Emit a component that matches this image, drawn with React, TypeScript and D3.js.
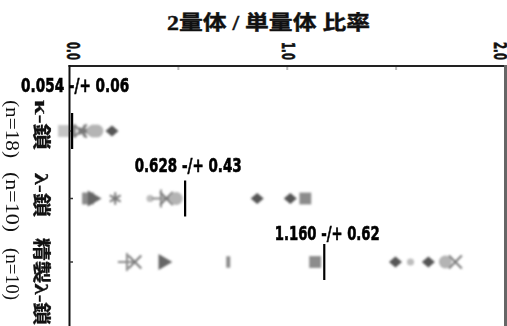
import React from 'react';
import * as d3 from 'd3';

// rows, top to bottom
const rowNames = ['κ-鎖', 'λ-鎖', '精製λ-鎖'];
const rowCounts = ['(n=18)', '(n=10)', '(n=10)'];

// 2量体/単量体 ratio of each sample
const kappaValues = [-0.025, 0.02, 0.05, 0.068, 0.11, 0.126, 0.195];
const kappaShapes = ['square', 'bar', 'times', 'asterisk', 'circle', 'circle', 'diamond'];
const lambdaValues = [0.085, 0.105, 0.21, 0.37, 0.42, 0.445, 0.49, 0.862, 1.014, 1.083];
const lambdaShapes = ['square', 'triangle', 'asterisk', 'dot', 'plus', 'times', 'circle', 'diamond', 'diamond', 'square'];
const pureValues = [0.264, 0.3, 0.43, 0.729, 1.128, 1.497, 1.566, 1.648, 1.726, 1.772];
const pureShapes = ['plus', 'times', 'triangle', 'bar', 'square', 'diamond', 'dot', 'diamond', 'circle', 'times'];

// where the mean bars are drawn, and their printed labels
const meanMarks = [0.012, 0.531, 1.17];
const meanLabels = ['0.054 -/+ 0.06', '0.628 -/+ 0.43', '1.160 -/+ 0.62'];

const xTicks = [0, 0.5, 1, 1.5, 2];
const xTickLabels = ['0.0', '', '1.0', '', '2.0'];

const W = 507;
const H = 326;

const shapeColor: Record<string, string> = {
  diamond: '#555',
  square: '#8c8c8c',
  circle: '#b4b4b4',
  dot: '#bdbdbd',
  triangle: '#666',
  times: '#7a7a7a',
  plus: '#8a8a8a',
  asterisk: '#777',
  bar: '#8a8a8a',
};

const Marker = ({ shape, x, y, light }: { shape: string; x: number; y: number; light?: boolean }) => {
  const col = light ? '#c4c4c4' : shapeColor[shape];
  const sym = d3.symbol();
  if (shape === 'square') return <path d={sym.type(d3.symbolSquare).size(140)()!} transform={`translate(${x},${y})`} fill={col} />;
  if (shape === 'diamond') return <path d={sym.type(d3.symbolSquare).size(70)()!} transform={`translate(${x},${y}) scale(1.1,0.95) rotate(45)`} fill={col} />;
  if (shape === 'circle') return <path d={sym.type(d3.symbolCircle).size(130)()!} transform={`translate(${x},${y})`} fill={col} />;
  if (shape === 'dot') return <path d={sym.type(d3.symbolCircle).size(40)()!} transform={`translate(${x},${y})`} fill={col} />;
  if (shape === 'triangle') return <path d={sym.type(d3.symbolTriangle).size(110)()!} transform={`translate(${x},${y}) rotate(90)`} fill={col} />;
  if (shape === 'bar') return <path d={sym.type(d3.symbolSquare).size(130)()!} transform={`translate(${x},${y}) scale(0.35,1)`} fill={col} />;
  const strokeType = shape === 'times' ? d3.symbolTimes : shape === 'plus' ? d3.symbolPlus : d3.symbolAsterisk;
  return <path d={sym.type(strokeType).size(110)()!} transform={`translate(${x},${y})`} fill="none" stroke={col} strokeWidth={2} />;
};

export default function App() {
  const x = d3.scaleLinear().domain([0, 2]).range([69.5, 505]);
  const yMid = (i: number) => [131, 198.5, 262][i];

  const rows = [
    { values: kappaValues, shapes: kappaShapes },
    { values: lambdaValues, shapes: lambdaShapes },
    { values: pureValues, shapes: pureShapes },
  ];

  // label layout (start y / length along the rotated text)
  const nameStart = [100, 173, 238];
  const nameLen = [50, 44, 87];
  const countStart = [100, 172, 248];
  const countLen = [58, 60, 52];
  const meanLabelY = [92, 172, 240];
  const meanLabelLen = [108, 107, 105];
  const tickDx = [4, 0, 1, 0, -5];

  const condensed = '"Liberation Sans Narrow", "DejaVu Sans Condensed", "Roboto", sans-serif';
  const serif = '"Liberation Serif", "DejaVu Serif", "Noto Sans CJK JP", serif';

  return (
    <svg width={W} height={H} style={{ position: 'absolute', left: 0, top: 0, background: '#fff' }}>
      <text x={268.5} y={30} textAnchor="middle" fontFamily={serif} fontWeight="bold" fontSize={20} textLength={203} lengthAdjust="spacingAndGlyphs" fill="#111" stroke="#111" strokeWidth={0.4}>
        2量体 / 単量体 比率
      </text>

      {/* top axis ticks and rotated labels */}
      {xTicks.map((t, i) => (
        <g key={i}>
          {i > 0 && i < 4 && <line x1={x(t)} x2={x(t)} y1={66} y2={70} stroke="#bbb" strokeWidth={2} />}
          {xTickLabels[i] && (
            <text transform={`translate(${x(t) + tickDx[i]},42) rotate(90)`} dominantBaseline="central" fontFamily={condensed} fontWeight="bold" fontSize={18} textLength={18} lengthAdjust="spacingAndGlyphs" fill="#111" stroke="#111" strokeWidth={0.6}>
              {xTickLabels[i]}
            </text>
          )}
        </g>
      ))}

      {/* points */}
      <defs>
        <filter id="soft" x="-20%" y="-20%" width="140%" height="140%">
          <feGaussianBlur stdDeviation="0.9" />
        </filter>
      </defs>
      <g filter="url(#soft)">
        {rows.map((r, ri) =>
          r.values.map((v, i) => (
            <Marker key={`${ri}-${i}`} shape={r.shapes[i]} x={x(v)} y={yMid(ri)} light={ri === 0 && i === 0} />
          ))
        )}
      </g>

      {/* frame */}
      <line x1={68.5} x2={505} y1={66} y2={66} stroke="#222" strokeWidth={2} />
      <line x1={69.5} x2={69.5} y1={65} y2={H} stroke="#111" strokeWidth={2} />
      <line x1={505.5} x2={505.5} y1={65} y2={H} stroke="#666" strokeWidth={3} />
      {rowNames.map((n, i) => (
        <line key={n} x1={69.5} x2={73} y1={yMid(i)} y2={yMid(i)} stroke="#333" strokeWidth={1.5} />
      ))}

      {/* row labels, rotated */}
      {rowNames.map((n, i) => (
        <g key={n}>
          <text transform={`translate(41,${nameStart[i]}) rotate(90)`} dominantBaseline="central" fontFamily={serif} fontWeight="bold" fontSize={18} textLength={nameLen[i]} lengthAdjust="spacingAndGlyphs" fill="#111" stroke="#111" strokeWidth={0.3}>
            {n}
          </text>
          <text transform={`translate(12,${countStart[i]}) rotate(90)`} dominantBaseline="central" fontFamily={serif} fontSize={18} textLength={countLen[i]} lengthAdjust="spacingAndGlyphs" fill="#111">
            {rowCounts[i]}
          </text>
        </g>
      ))}

      {/* means */}
      {meanMarks.map((m, i) => (
        <g key={i}>
          <line x1={x(m)} x2={x(m)} y1={yMid(i) - 18} y2={yMid(i) + 18} stroke="#000" strokeWidth={2.2} />
          <text x={x(m) + 3} y={meanLabelY[i]} textAnchor="middle" fontFamily={condensed} fontWeight="bold" fontSize={20} textLength={meanLabelLen[i]} lengthAdjust="spacingAndGlyphs" fill="#000" stroke="#000" strokeWidth={0.6}>
            {meanLabels[i]}
          </text>
        </g>
      ))}
    </svg>
  );
}
